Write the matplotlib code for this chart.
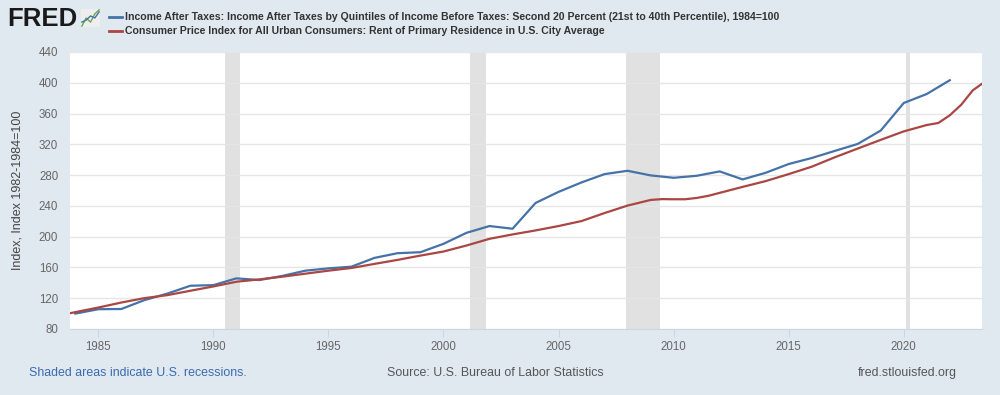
import matplotlib
matplotlib.use("Agg")
import matplotlib.pyplot as plt
from matplotlib.lines import Line2D

# income after taxes, second quintile (annual, 1984=100)
income_years = list(range(1984, 2023))
income_vals = [100, 105.7, 106, 117.5, 126, 136.2, 137, 145.8, 143.6, 149,
               155.8, 158.8, 161, 172.4, 178.5, 179.8, 190.7, 205, 213.8, 210.3,
               243.8, 258.2, 270.5, 281.3, 285.6, 279.6, 276.5, 279.1, 284.8, 274.4,
               283, 294.4, 302.2, 311.4, 320.5, 337.9, 373.7, 385.4, 403.3]

# CPI rent of primary residence
rent_x = [1983.77, 1985, 1986, 1987, 1988, 1989, 1990, 1991, 1992, 1993, 1994,
          1995, 1996, 1997, 1998, 1999, 2000, 2001, 2002, 2003, 2004, 2005,
          2006, 2007, 2008, 2009, 2009.5, 2010, 2010.5, 2011, 2011.5, 2012, 2013,
          2014, 2015, 2016, 2017, 2018, 2019, 2020, 2021, 2021.5, 2022, 2022.5,
          2023, 2023.39]
rent_vals = [100.5, 107.9, 114.4, 120.1, 124, 129.7, 135.3, 141.4, 144.5, 148,
             151.9, 155.8, 159.3, 164.6, 169.8, 175.4, 180.7, 188.5, 197.2, 202.9,
             208.1, 213.8, 220.3, 230.7, 240.4, 247.7, 248.8, 248.6, 248.6, 250.3,
             253, 256.9, 264.7, 272.2, 281.3, 290.9, 303.1, 314.5, 325.8, 336.8,
             345.1, 347.7, 357.7, 371.5, 390.2, 398.5]

recessions = [(1990.5, 1991.17), (2001.17, 2001.83), (2007.92, 2009.42), (2020.08, 2020.25)]
xticks = [1985, 1990, 1995, 2000, 2005, 2010, 2015, 2020]
yticks = [80, 120, 160, 200, 240, 280, 320, 360, 400, 440]
labels = ["Income After Taxes: Income After Taxes by Quintiles of Income Before Taxes: Second 20 Percent (21st to 40th Percentile), 1984=100",
          "Consumer Price Index for All Urban Consumers: Rent of Primary Residence in U.S. City Average"]

bg = "#e1e9f0"
blue = "#4572a7"
red = "#aa4643"
plt.rcParams['font.family'] = ['Liberation Sans', 'DejaVu Sans']

fig = plt.figure(figsize=(10, 3.95), dpi=100, facecolor=bg)
ax = fig.add_axes([0.07, 0.1671, 0.912, 0.7013])
ax.set_facecolor("white")

for a, b in recessions:
    ax.axvspan(a, b, color="#e1e1e1", lw=0, zorder=1)

ax.plot(income_years, income_vals, color=blue, lw=1.6, zorder=3)
ax.plot(rent_x, rent_vals, color=red, lw=1.6, zorder=3)

ax.set_xlim(1983.77, 2023.4)
ax.set_ylim(80, 440)
ax.set_yticks(yticks)
ax.set_xticks(xticks)
ax.grid(axis="y", color="#e6e6e6", lw=1, zorder=0)
for s in ["top", "right", "left"]:
    ax.spines[s].set_visible(False)
ax.spines["bottom"].set_color("#ccd6eb")
ax.tick_params(axis="y", length=0, pad=8.5, labelsize=8.3, labelcolor="#666666")
ax.tick_params(axis="x", length=6, color="#ccd6eb", pad=3, labelsize=8.3, labelcolor="#666666")
ax.set_ylabel("Index, Index 1982-1984=100", fontsize=9, color="#444444", labelpad=11)

# legend at the top, drawn by hand
for i, (c, lab) in enumerate(zip([blue, red], labels)):
    yy = 1 - (17 + 14 * i) / 395
    fig.add_artist(Line2D([0.109, 0.122], [yy, yy], color=c, lw=2))
    fig.text(0.125, yy, lab, fontsize=7.6, fontweight="bold", color="#333333", va="center")

# FRED logo
fig.text(0.007, 0.953, "FRED", fontsize=18.5, fontweight="heavy", color="#1a1a1a", va="center")
logo = fig.add_axes([0.081, 0.9316, 0.019, 0.0456])
logo.set_facecolor("#eeeeee")
logo.plot([0, 1, 2, 3, 4], [0, 2, 1, 3, 4], color="#6aa84f", lw=1)
logo.plot([0, 1, 2, 3, 4], [1, 1.5, 2.5, 2, 3.5], color="#4572a7", lw=1)
logo.set_xticks([])
logo.set_yticks([])
for s in logo.spines.values():
    s.set_visible(False)

# footer
fy = 1 - 373 / 395
fig.text(0.029, fy, "Shaded areas indicate U.S. recessions.", fontsize=8.9, color="#3a6ab0", va="center")
fig.text(0.387, fy, "Source: U.S. Bureau of Labor Statistics", fontsize=8.9, color="#555555", va="center")
fig.text(0.957, fy, "fred.stlouisfed.org", fontsize=8.9, color="#555555", va="center", ha="right")

fig.savefig("out.png", dpi=100, facecolor=bg)
